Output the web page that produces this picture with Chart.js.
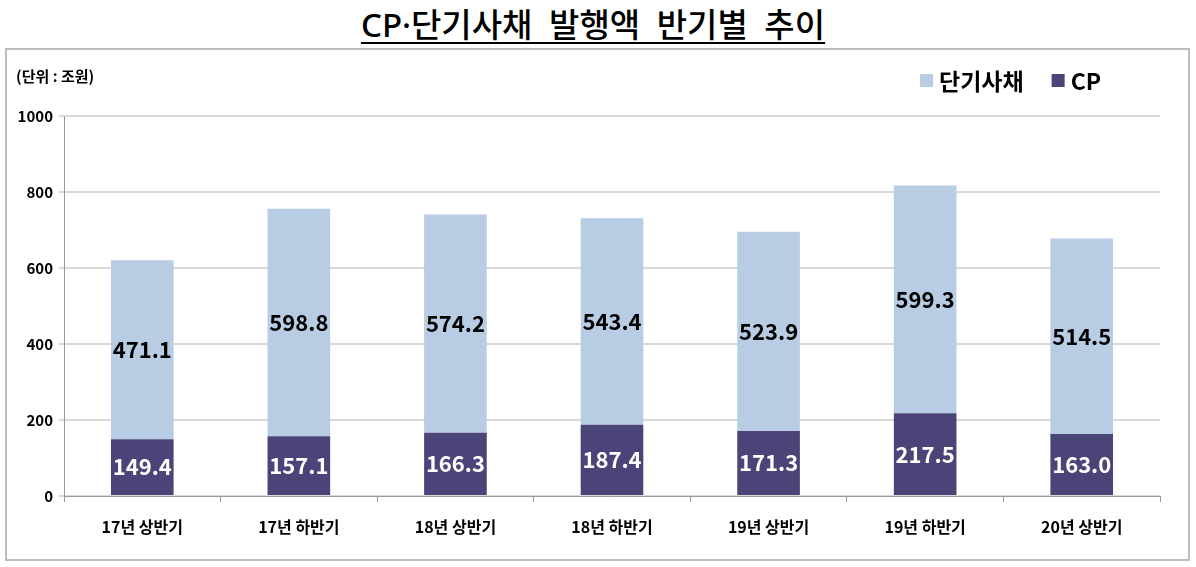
<!DOCTYPE html>
<html>
<head>
<meta charset="utf-8">
<script src="https://cdn.jsdelivr.net/npm/chart.js@4"></script>
<style>
  body { margin: 0; background: #fff; font-family: "Noto Sans CJK KR", sans-serif; }
  #title {
    position: absolute; left: 0; top: 4px; width: 1186px; text-align: center;
    font-family: "Noto Sans", "Noto Sans CJK KR", sans-serif;
    font-size: 33px; font-weight: 500; color: #000; word-spacing: 8px;
    text-decoration: underline; text-underline-offset: 5px;
    text-decoration-thickness: 2px; line-height: 42px;
  }
  #box {
    position: absolute; left: 5px; top: 48px; width: 1181px; height: 509px;
    border: 2px solid #bdbdbd;
  }
</style>
</head>
<body>
<div id="title">CP·단기사채 발행액 반기별 추이</div>
<div id="box"><canvas id="cpChart" width="1181" height="509"></canvas></div>
<script>
// data
const periods = ['17년 상반기', '17년 하반기', '18년 상반기', '18년 하반기', '19년 상반기', '19년 하반기', '20년 상반기'];
const cpValues = [149.4, 157.1, 166.3, 187.4, 171.3, 217.5, 163.0];
const shortBondValues = [471.1, 598.8, 574.2, 543.4, 523.9, 599.3, 514.5];
const yTicks = [0, 200, 400, 600, 800, 1000];

const fontFamily = '"Noto Sans CJK KR", sans-serif';

// value labels inside bars
const barLabels = {
  id: 'barLabels',
  afterDatasetsDraw(chart) {
    const c = chart.ctx;
    c.save();
    c.textAlign = 'center';
    c.textBaseline = 'middle';
    c.font = 'bold 22px ' + fontFamily;
    chart.data.datasets.forEach((ds, i) => {
      const meta = chart.getDatasetMeta(i);
      meta.data.forEach((bar, j) => {
        const mid = (bar.y + bar.base) / 2;
        c.fillStyle = i === 0 ? '#ffffff' : '#000000';
        c.fillText(ds.data[j].toFixed(1), bar.x, mid);
      });
    });
    c.restore();
  }
};

// unit label top-left + legend top-right
const headerText = {
  id: 'headerText',
  afterDraw(chart) {
    const c = chart.ctx;
    c.save();
    c.font = 'bold 15px ' + fontFamily;
    c.fillStyle = '#000';
    c.textBaseline = 'middle';
    c.fillText('(단위 : 조원)', 9, 26);

    // legend: 단기사채 first, then CP
    const items = [chart.data.datasets[1], chart.data.datasets[0]];
    let x = 913;
    const y = 31;
    c.font = 'bold 23px ' + fontFamily;
    items.forEach(ds => {
      c.fillStyle = ds.backgroundColor;
      c.fillRect(x, y - 7, 13, 13);
      c.fillStyle = '#000';
      c.fillText(ds.label, x + 19, y);
      x += 19 + c.measureText(ds.label).width + 28;
    });
    c.restore();
  }
};

const ctx = document.getElementById('cpChart').getContext('2d');
const cpChart = new Chart(ctx, {
  type: 'bar',
  data: {
    labels: periods,
    datasets: [
      {
        label: 'CP',
        data: cpValues,
        backgroundColor: '#4A4479',
        borderWidth: 0,
        categoryPercentage: 1,
        barPercentage: 0.4
      },
      {
        label: '단기사채',
        data: shortBondValues,
        backgroundColor: '#B8CCE4',
        borderWidth: 0,
        categoryPercentage: 1,
        barPercentage: 0.4
      }
    ]
  },
  options: {
    responsive: false,
    animation: false,
    layout: { padding: { top: 66, right: 28, bottom: 0, left: 0 } },
    plugins: {
      legend: { display: false },
      title: { display: false },
      tooltip: { enabled: false }
    },
    scales: {
      x: {
        stacked: true,
        grid: { drawOnChartArea: false, tickLength: 6, color: '#999', offset: true },
        border: { color: '#999' },
        ticks: {
          color: '#000',
          padding: 15,
          font: { family: fontFamily, size: 16, weight: 'bold' }
        },
        afterFit(scale) { scale.height = 63; }
      },
      y: {
        stacked: true,
        min: 0,
        max: 1000,
        afterBuildTicks(scale) { scale.ticks = yTicks.map(v => ({ value: v })); },
        grid: { color: '#d9d9d9', lineWidth: 2, tickLength: 5 },
        border: { color: '#999' },
        ticks: {
          color: '#000',
          padding: 6,
          callback: v => String(v),
          font: { family: fontFamily, size: 15, weight: 'bold' }
        },
        afterFit(scale) { scale.width = 57; }
      }
    }
  },
  plugins: [barLabels, headerText]
});
</script>
</body>
</html>
